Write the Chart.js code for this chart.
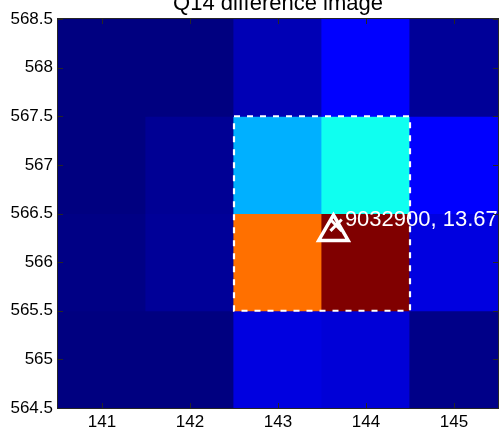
<!DOCTYPE html>
<html><head><meta charset="utf-8">
<script src="https://cdn.jsdelivr.net/npm/chart.js@4/dist/chart.umd.min.js"></script>
<style>html,body{margin:0;padding:0;background:#fff;}</style>
</head><body>
<canvas id="c" width="500" height="433"></canvas>
<script>
// ---- data ----
const titleText = 'Q14 difference image';
const xCategories = [141, 142, 143, 144, 145];
const yRows = [568, 567, 566, 565];
// normalized colour-map values (jet), one array per row (top to bottom)
const row568 = [0.000, 0.000, 0.052, 0.125, 0.024];
const row567 = [0.000, 0.020, 0.298, 0.390, 0.125];
const row566 = [0.005, 0.024, 0.765, 1.000, 0.095];
const row565 = [0.000, 0.000, 0.095, 0.086, 0.008];
const rowValues = [row568, row567, row566, row565];
const xTickValues = [141, 142, 143, 144, 145];
const xTickLabels = ['141', '142', '143', '144', '145'];
const yTickValues = [564.5, 565, 565.5, 566, 566.5, 567, 567.5, 568, 568.5];
const yTickLabels = ['564.5', '565', '565.5', '566', '566.5', '567', '567.5', '568', '568.5'];
const apertureX = [142.5, 144.5];
const apertureY = [565.5, 567.5];
const markerPoints = [{x: 143.63, y: 566.31}];
const markerInner = [{x: 143.66, y: 566.38}];
const annotationText = '9032900, 13.67';
const annotationAt = {x: 143.76, y: 566.37};

function jet(v) {
  const c = t => Math.round(255 * Math.max(0, Math.min(1, t)));
  return 'rgb(' + c(1.5 - Math.abs(4 * v - 3)) + ',' + c(1.5 - Math.abs(4 * v - 2)) + ',' + c(1.5 - Math.abs(4 * v - 1)) + ')';
}

const FONT = "'Liberation Sans', Arial, sans-serif";

const barSets = yRows.map((yc, r) => ({
  type: 'bar',
  data: xCategories.map(x => ({x: x, y: [yc - 0.5, yc + 0.5]})),
  backgroundColor: rowValues[r].map(jet),
  borderWidth: 0,
  inflateAmount: 0.6,
  barPercentage: 1,
  categoryPercentage: 1,
  grouped: false
}));

const markerSets = [
  {type: 'scatter', data: markerInner, pointStyle: 'crossRot', pointRadius: 8,
   borderColor: '#fff', borderWidth: 3, backgroundColor: 'rgba(0,0,0,0)'},
  {type: 'scatter', data: markerPoints, pointStyle: 'triangle', pointRadius: 17,
   borderColor: '#fff', borderWidth: 3.5, backgroundColor: 'rgba(0,0,0,0)'}
];

const overlay = {
  id: 'overlay',
  afterDatasetDraw(chart, args) {
    if (args.index !== markerSets.length) return;
    const xs = chart.scales.x, ys = chart.scales.y, ctx = chart.ctx;
    ctx.save();
    ctx.strokeStyle = '#fff';
    ctx.lineWidth = 2.2;
    ctx.setLineDash([6, 7]);
    const x0 = xs.getPixelForValue(apertureX[0]), x1 = xs.getPixelForValue(apertureX[1]);
    const y0 = ys.getPixelForValue(apertureY[1]), y1 = ys.getPixelForValue(apertureY[0]);
    ctx.strokeRect(x0, y0, x1 - x0, y1 - y0);
    ctx.restore();
  },
  afterDraw(chart) {
    const xs = chart.scales.x, ys = chart.scales.y, ctx = chart.ctx, a = chart.chartArea;
    ctx.save();
    // annotation text
    ctx.fillStyle = '#fff';
    ctx.font = '22px ' + FONT;
    ctx.textAlign = 'left';
    ctx.textBaseline = 'alphabetic';
    ctx.fillText(annotationText, xs.getPixelForValue(annotationAt.x), ys.getPixelForValue(annotationAt.y));
    // box
    ctx.strokeStyle = '#262626';
    ctx.lineWidth = 1;
    ctx.strokeRect(Math.round(a.left) - 0.5, Math.round(a.top) - 0.5, Math.round(a.right - a.left) + 1, Math.round(a.bottom - a.top) + 1);
    // inward ticks
    ctx.beginPath();
    const tl = 5;
    xTickValues.forEach(v => {
      const px = Math.round(xs.getPixelForValue(v)) + 0.5;
      ctx.moveTo(px, a.bottom); ctx.lineTo(px, a.bottom - tl);
      ctx.moveTo(px, a.top); ctx.lineTo(px, a.top + tl);
    });
    yTickValues.forEach(v => {
      const py = Math.round(ys.getPixelForValue(v)) + 0.5;
      ctx.moveTo(a.left, py); ctx.lineTo(a.left + tl, py);
      ctx.moveTo(a.right, py); ctx.lineTo(a.right - tl, py);
    });
    ctx.stroke();
    // title
    ctx.fillStyle = '#000';
    ctx.font = '22px ' + FONT;
    ctx.textAlign = 'center';
    ctx.textBaseline = 'alphabetic';
    ctx.fillText(titleText, (a.left + a.right) / 2, 10);
    ctx.restore();
  }
};

new Chart(document.getElementById('c'), {
  type: 'bar',
  data: {datasets: markerSets.concat(barSets)},
  options: {
    responsive: false,
    animation: false,
    events: [],
    layout: {autoPadding: false, padding: {top: 19, right: 2, left: 0, bottom: 0}},
    plugins: {legend: {display: false}, tooltip: {enabled: false}, title: {display: false}},
    scales: {
      x: {
        type: 'linear', min: 140.5, max: 145.5, offset: false, stacked: true,
        grid: {display: false, offset: false, drawTicks: false},
        border: {display: false},
        afterBuildTicks: ax => { ax.ticks = xTickValues.map(v => ({value: v})); },
        afterFit: ax => { ax.height = 25; ax.paddingLeft = 0; ax.paddingRight = 0; },
        ticks: {
          color: '#000', font: {family: FONT, size: 17}, padding: 4, maxRotation: 0, autoSkip: false,
          callback: (v) => xTickLabels[xTickValues.indexOf(v)]
        }
      },
      y: {
        type: 'linear', min: 564.5, max: 568.5, beginAtZero: false,
        grid: {display: false, drawTicks: false},
        border: {display: false},
        afterBuildTicks: ax => { ax.ticks = yTickValues.map(v => ({value: v})); },
        afterFit: ax => { ax.width = 58; ax.paddingTop = 0; ax.paddingBottom = 0; },
        ticks: {
          color: '#000', font: {family: FONT, size: 17}, padding: 5, autoSkip: false,
          callback: (v) => yTickLabels[yTickValues.indexOf(v)]
        }
      }
    }
  },
  plugins: [overlay]
});
</script>
</body></html>
